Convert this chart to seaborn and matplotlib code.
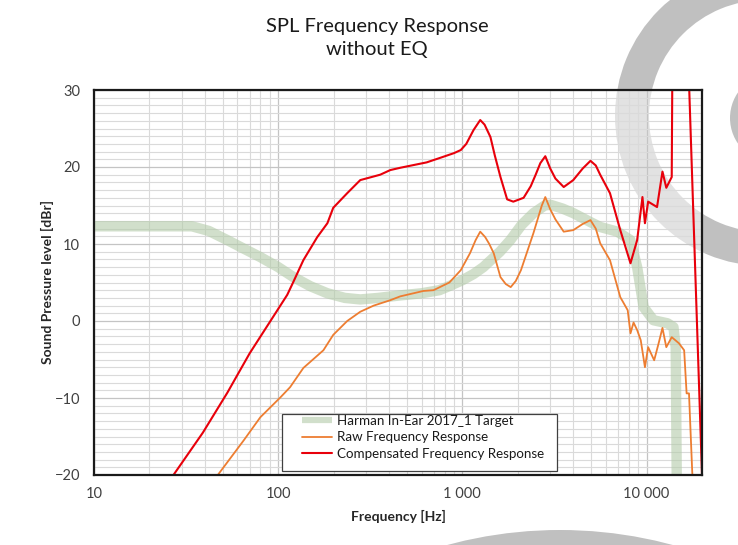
import matplotlib
matplotlib.use("Agg")
import matplotlib.pyplot as plt
import matplotlib.patches as mpatches
from matplotlib.ticker import FixedLocator, FixedFormatter, MultipleLocator
import seaborn as sns

# Harman In-Ear 2017_1 target curve
freq_target = [10, 20, 34, 42, 53, 65, 80, 100, 121, 150, 185, 230, 279, 350, 450, 600, 750, 861,
               1000, 1150, 1300, 1600, 1820, 2100, 2430, 2800, 3000, 3500, 4010, 5000, 5620,
               6950, 8180, 8890, 9640, 10900, 13000, 14000, 14400, 14600]
target = [12.3, 12.3, 12.3, 11.7, 10.5, 9.4, 8.3, 7.0, 5.7, 4.5, 3.6, 3.0, 2.8, 3.0, 3.3, 3.6, 4.0, 4.6,
          5.3, 6.1, 7.0, 9.0, 10.5, 12.5, 14.0, 15.0, 15.1, 14.6, 14.0, 12.8, 12.2,
          11.6, 10.5, 7.0, 1.8, 0.1, -0.3, -0.8, -3.4, -22.0]

# raw measurement
freq_raw = [47, 65, 80, 103, 116, 137, 176, 199, 237, 279, 330, 406, 460, 614, 697, 850, 980,
            1100, 1180, 1250, 1330, 1400, 1480, 1610, 1720, 1830, 1950, 2080, 2430, 2700, 2820,
            3000, 3200, 3550, 4000, 4500, 4960, 5300, 5600, 6330, 7200, 7900, 8180, 8500,
            8900, 9300, 9800, 10200, 11000, 11600, 12200, 12800, 13700, 15000, 16000,
            16500, 17000, 17700, 18000]
raw = [-20.0, -15.5, -12.5, -9.9, -8.6, -6.1, -3.8, -1.8, 0.0, 1.2, 2.0, 2.7, 3.2, 3.9, 4.0, 5.0, 6.6,
       8.8, 10.5, 11.6, 10.9, 10.0, 8.8, 5.7, 4.8, 4.4, 5.2, 6.6, 11.4, 15.0, 16.1,
       14.5, 13.2, 11.6, 11.8, 12.6, 13.1, 12.0, 10.1, 7.9, 3.1, 1.4, -1.6, -0.2,
       -1.2, -2.5, -6.0, -3.4, -5.1, -3.0, -0.9, -3.4, -2.1, -2.9, -3.8,
       -9.4, -9.4, -19.6, -22.0]

# compensated measurement
freq_comp = [27, 39, 53, 70, 99, 112, 121, 137, 163, 185, 199, 237, 279, 358, 406, 460, 640, 760,
             900, 980, 1050, 1150, 1250, 1320, 1420, 1500, 1610, 1750, 1890, 2150, 2350, 2500,
             2650, 2820, 3000, 3200, 3550, 4000, 4500, 4960, 5300, 5600, 6330, 7200, 8180,
             8890, 9500, 9800, 10200, 11400, 12200, 12800, 13700, 13900, 16900, 17000, 20000]
comp = [-20.0, -14.5, -9.3, -4.2, 1.4, 3.4, 5.1, 7.9, 10.9, 12.7, 14.7, 16.6, 18.3, 19.0, 19.6, 19.9,
        20.6, 21.2, 21.8, 22.2, 23.0, 24.8, 26.1, 25.5, 23.9, 21.5, 18.7, 15.8, 15.5, 16.0,
        17.5, 19.0, 20.5, 21.4, 19.8, 18.5, 17.4, 18.3, 19.8, 20.8, 20.2, 19.0, 16.6, 11.8,
        7.5, 10.5, 16.1, 12.7, 15.5, 14.8, 19.4, 17.3, 18.7, 45.0, 45.0, 31.0, -20.0]

xticks = [10, 100, 1000, 10000]
xticklabels = ["10", "100", "1 000", "10 000"]

sns.set_style("white")
plt.rcParams["font.family"] = ["Lato", "DejaVu Sans"]

W, H = 738, 545
fig = plt.figure(figsize=(W / 100, H / 100), dpi=100)

# watermark behind the chart
bg = fig.add_axes([0, 0, 1, 1], zorder=0)
bg.set_xlim(0, W)
bg.set_ylim(H, 0)
bg.axis("off")
wm = "#c0c0c0"
bg.add_patch(mpatches.Wedge((765, 116), 150, 0, 360, width=34, color=wm, lw=0))
bg.add_patch(mpatches.Circle((775, 118), 45, color=wm, lw=0))
bg.add_patch(mpatches.Circle((560, 962), 432, color=wm, lw=0))

ax = fig.add_axes([94 / W, 1 - 475 / H, 608 / W, 385 / H], zorder=1)
ax.set_facecolor((1, 1, 1, 0.55))
ax.set_xscale("log")

sns.lineplot(x=freq_target, y=target, ax=ax, color="#b3cba9", alpha=0.6, lw=7.5,
             label="Harman In-Ear 2017_1 Target", solid_capstyle="butt")
sns.lineplot(x=freq_raw, y=raw, ax=ax, color="#ed7d31", lw=1.3,
             label="Raw Frequency Response")
sns.lineplot(x=freq_comp, y=comp, ax=ax, color="#e8000b", lw=1.5,
             label="Compensated Frequency Response")

ax.set_xlim(10, 20000)
ax.set_ylim(-20, 30)

ax.xaxis.set_major_locator(FixedLocator(xticks))
ax.xaxis.set_major_formatter(FixedFormatter(xticklabels))
ax.xaxis.set_minor_locator(FixedLocator([m * d for d in (10, 100, 1000, 10000) for m in range(2, 10)]))
ax.yaxis.set_major_locator(MultipleLocator(10))
ax.yaxis.set_minor_locator(MultipleLocator(1))
ax.grid(True, which="minor", color="#dadada", lw=0.8)
ax.grid(True, which="major", color="#c4c4c4", lw=0.9)
ax.set_axisbelow(True)
ax.tick_params(which="both", length=0)
ax.tick_params(axis="x", pad=9, labelsize=10.5, labelcolor="#404040")
ax.tick_params(axis="y", pad=10, labelsize=10.5, labelcolor="#404040")
for s in ax.spines.values():
    s.set_color("#1a1a1a")
    s.set_linewidth(1.6)

ax.set_xlabel("Frequency [Hz]", fontsize=10, fontweight="bold")
ax.set_ylabel("Sound Pressure level [dBr]", fontsize=10, fontweight="bold")
ax.xaxis.set_label_coords(0.5, -0.092)
ax.yaxis.set_label_coords(-0.066, 0.5)

# legend box drawn separately so padding matches
x0, x1, y0, y1 = 282, 557, 414, 471
box = mpatches.Rectangle(((x0 - 94) / 608, (475 - y1) / 385), (x1 - x0) / 608, (y1 - y0) / 385,
                         transform=ax.transAxes, facecolor="white", edgecolor="#404040",
                         lw=0.9, zorder=4)
ax.add_patch(box)
leg = ax.legend(loc="upper left", bbox_to_anchor=((302 - 94) / 608, (475 - 415) / 385),
                borderaxespad=0, borderpad=0, frameon=False, fontsize=9.6,
                handlelength=2.25, handletextpad=0.38, labelspacing=0.33)
leg.set_zorder(5)
leg.get_lines()[0].set_linewidth(4.5)
leg.get_lines()[0].set_alpha(0.6)
for t in leg.get_texts():
    t.set_color("#1a1a1a")

fig.text(377 / W, 1 - 18 / H, "SPL Frequency Response\nwithout EQ", ha="center", va="top",
         fontsize=14.5, linespacing=1.4, color="#1a1a1a")

fig.savefig("out.png", dpi=100)
